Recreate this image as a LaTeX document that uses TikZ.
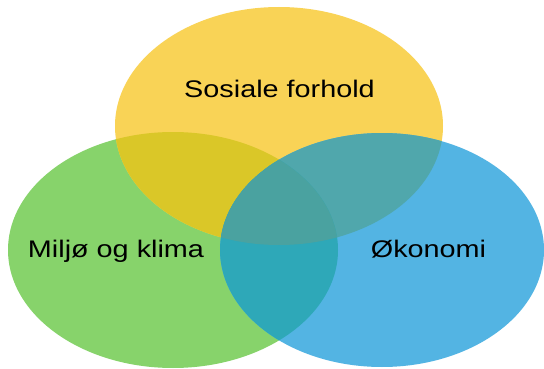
\documentclass[tikz,border=0pt]{standalone}
\usepackage{fontspec}
\setmainfont{Liberation Sans}
\definecolor{cY}{RGB}{249,211,86}
\definecolor{cG}{RGB}{135,211,107}
\definecolor{cB}{RGB}{83,180,227}
\definecolor{cGY}{RGB}{218,199,40}
\definecolor{cBY}{RGB}{80,167,172}
\definecolor{cBG}{RGB}{46,168,184}
\definecolor{cBGY}{RGB}{74,162,160}
\tikzset{lbl/.style={anchor=base,font=\fontsize{24}{28}\selectfont,xscale=1.2,text=black,inner sep=0pt}}
\def\yel{(279,126) ellipse [x radius=164, y radius=119]}
\def\grn{(173,250) ellipse [x radius=165, y radius=118]}
\def\blu{(382,250) ellipse [x radius=162, y radius=117]}
\begin{document}
\begin{tikzpicture}[x=1pt,y=-1pt]
\useasboundingbox (0,0) rectangle (544,369);
\fill[white] (0,0) rectangle (544,369);
\fill[cG] \grn;
\fill[cY] \yel;
\fill[cB] \blu;
\begin{scope}\clip \yel; \fill[cGY] \grn; \end{scope}
\begin{scope}\clip \blu; \fill[cBY] \yel; \end{scope}
\begin{scope}\clip \blu; \fill[cBG] \grn; \end{scope}
\begin{scope}\clip \blu; \clip \yel; \fill[cBGY] \grn; \end{scope}
\node[lbl] (sos) at (279.5,97.7) {Sosiale forhold};
\node[lbl] (mil) at (116,257) {Miljø og klima};
\node[lbl] (oko) at (428.5,257) {Økonomi};
\end{tikzpicture}
\end{document}
